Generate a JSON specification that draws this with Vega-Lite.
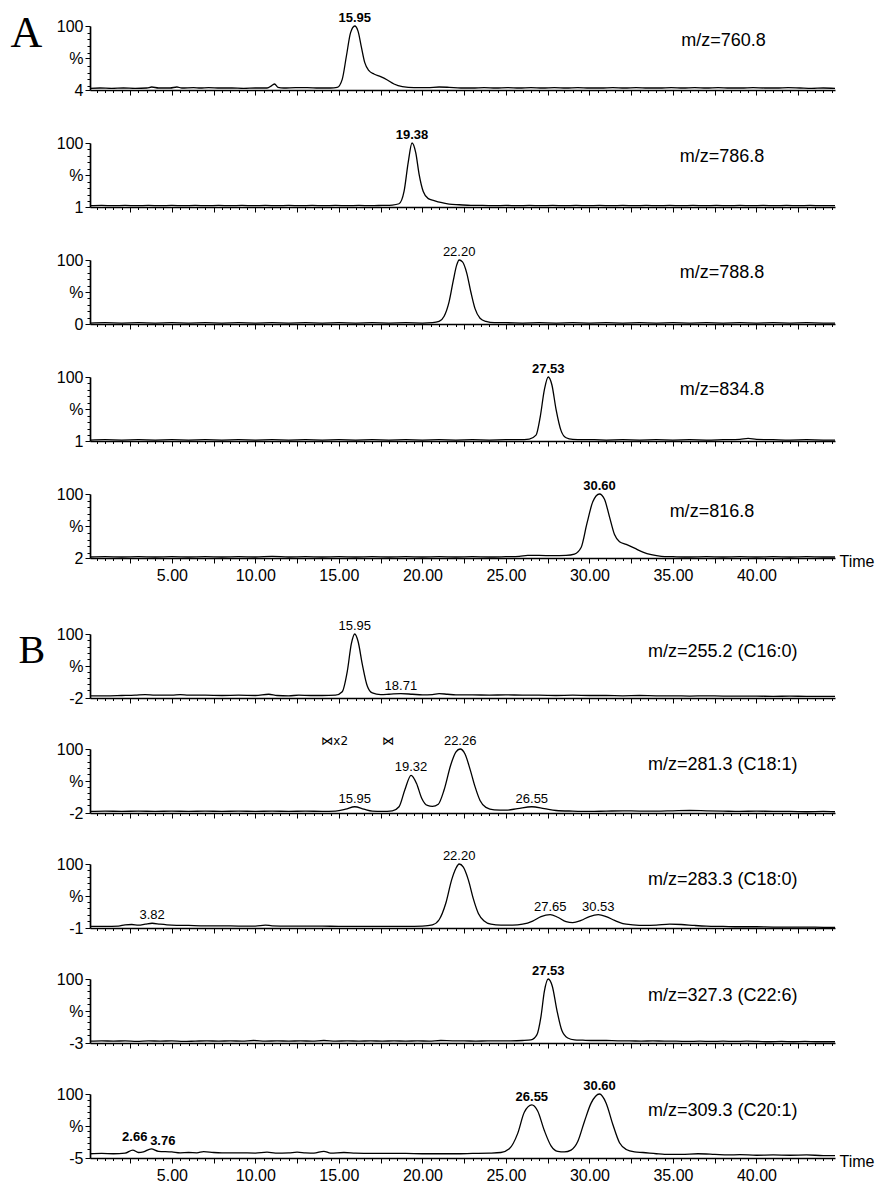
{
"$schema": "https://vega.github.io/schema/vega-lite/v6.json",
"background": "white",
"padding": {"left": 10, "top": 11, "right": 4, "bottom": 0},
"config": {"view": {"stroke": null}, "font": "Liberation Sans", "axis": {"domainColor": "black", "tickColor": "black", "labelColor": "black", "titleColor": "black", "grid": false, "domainWidth": 1.7, "tickWidth": 1, "labelFontSize": 16, "labelFont": "Liberation Sans"}, "text": {"color": "black"}},
"datasets": {
"tr": [
{"p":"A1","t":0.1,"v":6.5},{"p":"A1","t":0.7,"v":7},{"p":"A1","t":1.4,"v":6.5},{"p":"A1","t":2.1,"v":7},{"p":"A1","t":2.8,"v":6.5},{"p":"A1","t":3.5,"v":7},{"p":"A1","t":3.8,"v":8.5},{"p":"A1","t":4.2,"v":7},{"p":"A1","t":4.9,"v":7},{"p":"A1","t":5.3,"v":8.5},{"p":"A1","t":5.6,"v":7},{"p":"A1","t":6.3,"v":7.5},{"p":"A1","t":6.7,"v":7},{"p":"A1","t":7.2,"v":7.5},{"p":"A1","t":7.9,"v":7},{"p":"A1","t":8.6,"v":7},{"p":"A1","t":9.3,"v":6.5},{"p":"A1","t":10.0,"v":7},{"p":"A1","t":10.7,"v":7},{"p":"A1","t":11.0,"v":11},{"p":"A1","t":11.15,"v":13},{"p":"A1","t":11.35,"v":8},{"p":"A1","t":11.7,"v":7},{"p":"A1","t":12.4,"v":7.5},{"p":"A1","t":13.1,"v":7.5},{"p":"A1","t":13.8,"v":7},{"p":"A1","t":14.5,"v":7},{"p":"A1","t":14.9,"v":8},{"p":"A1","t":15.2,"v":20},{"p":"A1","t":15.45,"v":55},{"p":"A1","t":15.7,"v":90},{"p":"A1","t":15.95,"v":100},{"p":"A1","t":16.15,"v":92},{"p":"A1","t":16.35,"v":68},{"p":"A1","t":16.55,"v":45},{"p":"A1","t":16.8,"v":33},{"p":"A1","t":17.1,"v":28},{"p":"A1","t":17.5,"v":24},{"p":"A1","t":17.9,"v":19},{"p":"A1","t":18.3,"v":13},{"p":"A1","t":18.8,"v":9},{"p":"A1","t":19.5,"v":7.5},{"p":"A1","t":20.3,"v":7.5},{"p":"A1","t":21.0,"v":8.5},{"p":"A1","t":21.6,"v":8},{"p":"A1","t":22.3,"v":7},{"p":"A1","t":23.0,"v":7},{"p":"A1","t":23.7,"v":7.5},{"p":"A1","t":24.4,"v":7},{"p":"A1","t":25.1,"v":7.5},{"p":"A1","t":25.8,"v":7},{"p":"A1","t":26.5,"v":7.5},{"p":"A1","t":27.2,"v":7},{"p":"A1","t":27.9,"v":7.5},{"p":"A1","t":28.6,"v":7},{"p":"A1","t":29.3,"v":7.5},{"p":"A1","t":30.0,"v":7},{"p":"A1","t":30.7,"v":7},{"p":"A1","t":31.4,"v":7.5},{"p":"A1","t":32.1,"v":7},{"p":"A1","t":32.8,"v":7.5},{"p":"A1","t":33.5,"v":7},{"p":"A1","t":34.2,"v":7},{"p":"A1","t":34.9,"v":7.5},{"p":"A1","t":35.6,"v":7},{"p":"A1","t":36.3,"v":7.5},{"p":"A1","t":37.0,"v":7},{"p":"A1","t":37.7,"v":7.5},{"p":"A1","t":38.4,"v":7},{"p":"A1","t":39.1,"v":7},{"p":"A1","t":39.8,"v":7.5},{"p":"A1","t":40.5,"v":7},{"p":"A1","t":41.2,"v":7},{"p":"A1","t":41.9,"v":7.5},{"p":"A1","t":42.6,"v":7},{"p":"A1","t":43.3,"v":6.5},{"p":"A1","t":44.0,"v":7},{"p":"A1","t":44.7,"v":6.5},
{"p":"A2","t":0.1,"v":3},{"p":"A2","t":0.8,"v":3.5},{"p":"A2","t":1.5,"v":3},{"p":"A2","t":2.2,"v":3.5},{"p":"A2","t":2.9,"v":3},{"p":"A2","t":3.6,"v":3.5},{"p":"A2","t":4.3,"v":3},{"p":"A2","t":5.0,"v":3.5},{"p":"A2","t":5.7,"v":3},{"p":"A2","t":6.4,"v":3.5},{"p":"A2","t":7.1,"v":3},{"p":"A2","t":7.8,"v":3.5},{"p":"A2","t":8.5,"v":3},{"p":"A2","t":9.2,"v":3.5},{"p":"A2","t":9.9,"v":3},{"p":"A2","t":10.6,"v":3.5},{"p":"A2","t":11.3,"v":3},{"p":"A2","t":12.0,"v":3.5},{"p":"A2","t":12.7,"v":3},{"p":"A2","t":13.4,"v":3.5},{"p":"A2","t":14.1,"v":3},{"p":"A2","t":14.8,"v":3.5},{"p":"A2","t":15.5,"v":3},{"p":"A2","t":16.2,"v":3.5},{"p":"A2","t":16.9,"v":3},{"p":"A2","t":17.6,"v":3.5},{"p":"A2","t":18.2,"v":4},{"p":"A2","t":18.6,"v":6},{"p":"A2","t":18.9,"v":25},{"p":"A2","t":19.15,"v":70},{"p":"A2","t":19.38,"v":100},{"p":"A2","t":19.6,"v":85},{"p":"A2","t":19.8,"v":52},{"p":"A2","t":20.05,"v":25},{"p":"A2","t":20.35,"v":14},{"p":"A2","t":20.7,"v":11},{"p":"A2","t":21.1,"v":8},{"p":"A2","t":21.6,"v":5.5},{"p":"A2","t":22.2,"v":4.5},{"p":"A2","t":22.9,"v":3.5},{"p":"A2","t":23.6,"v":3.5},{"p":"A2","t":24.3,"v":3},{"p":"A2","t":25.0,"v":3.5},{"p":"A2","t":25.7,"v":3},{"p":"A2","t":26.4,"v":3.5},{"p":"A2","t":27.1,"v":3},{"p":"A2","t":27.8,"v":3.5},{"p":"A2","t":28.5,"v":3},{"p":"A2","t":29.2,"v":3.5},{"p":"A2","t":29.9,"v":3},{"p":"A2","t":30.6,"v":3.5},{"p":"A2","t":31.3,"v":3},{"p":"A2","t":32.0,"v":3.5},{"p":"A2","t":32.7,"v":3},{"p":"A2","t":33.4,"v":3.5},{"p":"A2","t":34.1,"v":3},{"p":"A2","t":34.8,"v":3.5},{"p":"A2","t":35.5,"v":3},{"p":"A2","t":36.2,"v":3.5},{"p":"A2","t":36.9,"v":3},{"p":"A2","t":37.6,"v":3.5},{"p":"A2","t":38.3,"v":3},{"p":"A2","t":39.0,"v":3.5},{"p":"A2","t":39.7,"v":3},{"p":"A2","t":40.4,"v":3.5},{"p":"A2","t":41.1,"v":3},{"p":"A2","t":41.8,"v":3.5},{"p":"A2","t":42.5,"v":3},{"p":"A2","t":43.2,"v":3.5},{"p":"A2","t":43.9,"v":3},{"p":"A2","t":44.7,"v":3},
{"p":"A3","t":0.1,"v":1.5},{"p":"A3","t":1.0,"v":2},{"p":"A3","t":2.0,"v":1.5},{"p":"A3","t":3.0,"v":2},{"p":"A3","t":4.0,"v":1.5},{"p":"A3","t":5.0,"v":2},{"p":"A3","t":6.0,"v":1.5},{"p":"A3","t":7.0,"v":2},{"p":"A3","t":8.0,"v":1.5},{"p":"A3","t":9.0,"v":2},{"p":"A3","t":10.0,"v":1.5},{"p":"A3","t":11.0,"v":2},{"p":"A3","t":12.0,"v":1.5},{"p":"A3","t":13.0,"v":2},{"p":"A3","t":14.0,"v":1.5},{"p":"A3","t":15.0,"v":2},{"p":"A3","t":16.0,"v":1.5},{"p":"A3","t":17.0,"v":2},{"p":"A3","t":18.0,"v":1.5},{"p":"A3","t":19.0,"v":2},{"p":"A3","t":20.0,"v":1.5},{"p":"A3","t":20.6,"v":2},{"p":"A3","t":21.0,"v":4},{"p":"A3","t":21.3,"v":12},{"p":"A3","t":21.6,"v":35},{"p":"A3","t":21.85,"v":68},{"p":"A3","t":22.05,"v":92},{"p":"A3","t":22.2,"v":100},{"p":"A3","t":22.4,"v":97},{"p":"A3","t":22.65,"v":80},{"p":"A3","t":22.9,"v":50},{"p":"A3","t":23.15,"v":24},{"p":"A3","t":23.45,"v":9},{"p":"A3","t":23.8,"v":4},{"p":"A3","t":24.3,"v":2},{"p":"A3","t":25.0,"v":2},{"p":"A3","t":26.0,"v":1.5},{"p":"A3","t":27.0,"v":2},{"p":"A3","t":28.0,"v":1.5},{"p":"A3","t":29.0,"v":2},{"p":"A3","t":30.0,"v":1.5},{"p":"A3","t":31.0,"v":2},{"p":"A3","t":32.0,"v":1.5},{"p":"A3","t":33.0,"v":2},{"p":"A3","t":34.0,"v":1.5},{"p":"A3","t":35.0,"v":2},{"p":"A3","t":36.0,"v":1.5},{"p":"A3","t":37.0,"v":2},{"p":"A3","t":38.0,"v":1.5},{"p":"A3","t":39.0,"v":2},{"p":"A3","t":40.0,"v":1.5},{"p":"A3","t":41.0,"v":2},{"p":"A3","t":42.0,"v":1.5},{"p":"A3","t":43.0,"v":2},{"p":"A3","t":44.0,"v":1.5},{"p":"A3","t":44.7,"v":1.5},
{"p":"A4","t":0.1,"v":2.5},{"p":"A4","t":1.0,"v":3},{"p":"A4","t":2.0,"v":2.5},{"p":"A4","t":3.0,"v":3},{"p":"A4","t":4.0,"v":2.5},{"p":"A4","t":5.0,"v":3},{"p":"A4","t":6.0,"v":2.5},{"p":"A4","t":7.0,"v":3},{"p":"A4","t":8.0,"v":2.5},{"p":"A4","t":9.0,"v":3},{"p":"A4","t":10.0,"v":2.5},{"p":"A4","t":11.0,"v":3},{"p":"A4","t":12.0,"v":2.5},{"p":"A4","t":13.0,"v":3},{"p":"A4","t":14.0,"v":2.5},{"p":"A4","t":15.0,"v":3},{"p":"A4","t":16.0,"v":2.5},{"p":"A4","t":17.0,"v":3},{"p":"A4","t":18.0,"v":2.5},{"p":"A4","t":19.0,"v":3},{"p":"A4","t":20.0,"v":2.5},{"p":"A4","t":21.0,"v":3},{"p":"A4","t":22.0,"v":2.5},{"p":"A4","t":23.0,"v":3},{"p":"A4","t":24.0,"v":2.5},{"p":"A4","t":25.0,"v":3},{"p":"A4","t":25.8,"v":3},{"p":"A4","t":26.4,"v":4},{"p":"A4","t":26.8,"v":10},{"p":"A4","t":27.05,"v":38},{"p":"A4","t":27.3,"v":80},{"p":"A4","t":27.53,"v":100},{"p":"A4","t":27.75,"v":88},{"p":"A4","t":28.0,"v":50},{"p":"A4","t":28.3,"v":17},{"p":"A4","t":28.6,"v":6},{"p":"A4","t":29.0,"v":3.5},{"p":"A4","t":29.6,"v":3},{"p":"A4","t":30.3,"v":3},{"p":"A4","t":31.0,"v":2.5},{"p":"A4","t":32.0,"v":3},{"p":"A4","t":33.0,"v":2.5},{"p":"A4","t":34.0,"v":3},{"p":"A4","t":35.0,"v":2.5},{"p":"A4","t":36.0,"v":3},{"p":"A4","t":37.0,"v":2.5},{"p":"A4","t":38.0,"v":3},{"p":"A4","t":39.0,"v":3.5},{"p":"A4","t":39.5,"v":5},{"p":"A4","t":40.0,"v":3.5},{"p":"A4","t":41.0,"v":3},{"p":"A4","t":42.0,"v":2.5},{"p":"A4","t":43.0,"v":3},{"p":"A4","t":44.0,"v":2.5},{"p":"A4","t":44.7,"v":2.5},
{"p":"A5","t":0.1,"v":3.5},{"p":"A5","t":1.0,"v":4},{"p":"A5","t":2.0,"v":3.5},{"p":"A5","t":3.0,"v":4},{"p":"A5","t":4.0,"v":3.5},{"p":"A5","t":5.0,"v":4},{"p":"A5","t":6.0,"v":3.5},{"p":"A5","t":7.0,"v":4},{"p":"A5","t":8.0,"v":3.5},{"p":"A5","t":9.0,"v":4},{"p":"A5","t":10.0,"v":3.5},{"p":"A5","t":11.0,"v":4.5},{"p":"A5","t":12.0,"v":3.5},{"p":"A5","t":13.0,"v":4},{"p":"A5","t":14.0,"v":3.5},{"p":"A5","t":15.0,"v":4},{"p":"A5","t":16.0,"v":3.5},{"p":"A5","t":17.0,"v":4},{"p":"A5","t":18.0,"v":3.5},{"p":"A5","t":19.0,"v":4},{"p":"A5","t":20.0,"v":3.5},{"p":"A5","t":21.0,"v":4},{"p":"A5","t":22.0,"v":3.5},{"p":"A5","t":23.0,"v":4},{"p":"A5","t":24.0,"v":3.5},{"p":"A5","t":25.0,"v":4},{"p":"A5","t":25.8,"v":4.5},{"p":"A5","t":26.3,"v":6},{"p":"A5","t":27.0,"v":6},{"p":"A5","t":27.8,"v":5.5},{"p":"A5","t":28.6,"v":6},{"p":"A5","t":29.1,"v":8},{"p":"A5","t":29.5,"v":18},{"p":"A5","t":29.85,"v":55},{"p":"A5","t":30.2,"v":88},{"p":"A5","t":30.6,"v":100},{"p":"A5","t":30.9,"v":92},{"p":"A5","t":31.2,"v":65},{"p":"A5","t":31.5,"v":38},{"p":"A5","t":31.8,"v":27},{"p":"A5","t":32.2,"v":23},{"p":"A5","t":32.7,"v":17},{"p":"A5","t":33.2,"v":11},{"p":"A5","t":33.7,"v":7},{"p":"A5","t":34.3,"v":4.5},{"p":"A5","t":35.0,"v":4},{"p":"A5","t":36.0,"v":3.5},{"p":"A5","t":37.0,"v":4},{"p":"A5","t":38.0,"v":3.5},{"p":"A5","t":39.0,"v":4},{"p":"A5","t":40.0,"v":3.5},{"p":"A5","t":41.0,"v":4},{"p":"A5","t":42.0,"v":3.5},{"p":"A5","t":43.0,"v":4},{"p":"A5","t":44.0,"v":3.5},{"p":"A5","t":44.7,"v":3.5},
{"p":"B1","t":0.1,"v":1.5},{"p":"B1","t":1.0,"v":1.5},{"p":"B1","t":2.0,"v":2},{"p":"B1","t":2.8,"v":2.5},{"p":"B1","t":3.4,"v":3.5},{"p":"B1","t":4.0,"v":2.5},{"p":"B1","t":5.0,"v":2.5},{"p":"B1","t":5.5,"v":3.5},{"p":"B1","t":6.0,"v":2.5},{"p":"B1","t":7.0,"v":2.5},{"p":"B1","t":8.0,"v":2},{"p":"B1","t":9.0,"v":2.5},{"p":"B1","t":10.0,"v":2},{"p":"B1","t":10.8,"v":4},{"p":"B1","t":11.3,"v":2},{"p":"B1","t":12.0,"v":1.5},{"p":"B1","t":12.6,"v":2.5},{"p":"B1","t":13.3,"v":2},{"p":"B1","t":14.0,"v":2},{"p":"B1","t":14.8,"v":2.5},{"p":"B1","t":15.2,"v":8},{"p":"B1","t":15.5,"v":40},{"p":"B1","t":15.75,"v":85},{"p":"B1","t":15.95,"v":100},{"p":"B1","t":16.15,"v":88},{"p":"B1","t":16.4,"v":52},{"p":"B1","t":16.7,"v":17},{"p":"B1","t":17.0,"v":6},{"p":"B1","t":17.5,"v":3.5},{"p":"B1","t":18.0,"v":4},{"p":"B1","t":18.71,"v":5},{"p":"B1","t":19.4,"v":4},{"p":"B1","t":20.0,"v":3},{"p":"B1","t":20.6,"v":3.5},{"p":"B1","t":21.0,"v":5},{"p":"B1","t":21.5,"v":4},{"p":"B1","t":22.0,"v":3},{"p":"B1","t":23.0,"v":3},{"p":"B1","t":24.0,"v":2.5},{"p":"B1","t":25.0,"v":3},{"p":"B1","t":26.0,"v":2.5},{"p":"B1","t":27.0,"v":2.5},{"p":"B1","t":28.0,"v":2},{"p":"B1","t":29.0,"v":2.5},{"p":"B1","t":30.0,"v":2},{"p":"B1","t":31.0,"v":2},{"p":"B1","t":32.0,"v":1.5},{"p":"B1","t":33.0,"v":2},{"p":"B1","t":34.0,"v":1.5},{"p":"B1","t":35.0,"v":1.5},{"p":"B1","t":36.0,"v":1},{"p":"B1","t":37.0,"v":1.5},{"p":"B1","t":38.0,"v":1},{"p":"B1","t":39.0,"v":1},{"p":"B1","t":40.0,"v":1},{"p":"B1","t":41.0,"v":0.5},{"p":"B1","t":42.0,"v":1},{"p":"B1","t":43.0,"v":0.5},{"p":"B1","t":44.0,"v":0.5},{"p":"B1","t":44.7,"v":0.5},
{"p":"B2","t":0.1,"v":0.5},{"p":"B2","t":1.0,"v":1},{"p":"B2","t":2.0,"v":0.5},{"p":"B2","t":3.0,"v":1},{"p":"B2","t":4.0,"v":0.5},{"p":"B2","t":5.0,"v":1},{"p":"B2","t":6.0,"v":0.5},{"p":"B2","t":7.0,"v":1},{"p":"B2","t":8.0,"v":0.5},{"p":"B2","t":9.0,"v":1},{"p":"B2","t":10.0,"v":0.5},{"p":"B2","t":11.0,"v":1},{"p":"B2","t":12.0,"v":0.5},{"p":"B2","t":13.0,"v":1},{"p":"B2","t":14.0,"v":0.5},{"p":"B2","t":14.8,"v":1},{"p":"B2","t":15.4,"v":4},{"p":"B2","t":15.95,"v":8},{"p":"B2","t":16.5,"v":4},{"p":"B2","t":17.0,"v":1},{"p":"B2","t":17.6,"v":0.5},{"p":"B2","t":18.2,"v":1.5},{"p":"B2","t":18.6,"v":8},{"p":"B2","t":18.95,"v":35},{"p":"B2","t":19.32,"v":58},{"p":"B2","t":19.65,"v":45},{"p":"B2","t":19.95,"v":22},{"p":"B2","t":20.3,"v":10},{"p":"B2","t":20.6,"v":8.5},{"p":"B2","t":20.95,"v":12},{"p":"B2","t":21.3,"v":35},{"p":"B2","t":21.7,"v":75},{"p":"B2","t":22.0,"v":95},{"p":"B2","t":22.26,"v":100},{"p":"B2","t":22.55,"v":92},{"p":"B2","t":22.85,"v":68},{"p":"B2","t":23.15,"v":40},{"p":"B2","t":23.45,"v":18},{"p":"B2","t":23.8,"v":7},{"p":"B2","t":24.3,"v":3},{"p":"B2","t":25.0,"v":2.5},{"p":"B2","t":25.7,"v":5},{"p":"B2","t":26.55,"v":8},{"p":"B2","t":27.3,"v":5},{"p":"B2","t":28.0,"v":2},{"p":"B2","t":29.0,"v":1},{"p":"B2","t":30.0,"v":0.5},{"p":"B2","t":31.0,"v":1},{"p":"B2","t":32.0,"v":1.5},{"p":"B2","t":33.0,"v":1},{"p":"B2","t":34.0,"v":1},{"p":"B2","t":35.0,"v":1.5},{"p":"B2","t":36.0,"v":2},{"p":"B2","t":37.0,"v":1.5},{"p":"B2","t":38.0,"v":1},{"p":"B2","t":39.0,"v":0.5},{"p":"B2","t":40.0,"v":1},{"p":"B2","t":41.0,"v":0.5},{"p":"B2","t":42.0,"v":0.5},{"p":"B2","t":43.0,"v":0},{"p":"B2","t":44.0,"v":0.5},{"p":"B2","t":44.7,"v":0},
{"p":"B3","t":0.1,"v":1.5},{"p":"B3","t":1.0,"v":1.5},{"p":"B3","t":1.8,"v":2},{"p":"B3","t":2.2,"v":4},{"p":"B3","t":2.6,"v":4.5},{"p":"B3","t":3.0,"v":3.5},{"p":"B3","t":3.4,"v":5},{"p":"B3","t":3.82,"v":6.5},{"p":"B3","t":4.3,"v":5},{"p":"B3","t":5.0,"v":3.5},{"p":"B3","t":6.0,"v":3},{"p":"B3","t":7.0,"v":2.5},{"p":"B3","t":8.0,"v":2.5},{"p":"B3","t":9.0,"v":2},{"p":"B3","t":10.0,"v":2},{"p":"B3","t":10.6,"v":3.5},{"p":"B3","t":11.0,"v":2.5},{"p":"B3","t":12.0,"v":2},{"p":"B3","t":13.0,"v":2},{"p":"B3","t":14.0,"v":2},{"p":"B3","t":15.0,"v":1.5},{"p":"B3","t":16.0,"v":1.5},{"p":"B3","t":17.0,"v":1.5},{"p":"B3","t":18.0,"v":1.5},{"p":"B3","t":19.0,"v":1.5},{"p":"B3","t":20.0,"v":2},{"p":"B3","t":20.6,"v":4},{"p":"B3","t":21.0,"v":12},{"p":"B3","t":21.4,"v":38},{"p":"B3","t":21.75,"v":75},{"p":"B3","t":22.0,"v":93},{"p":"B3","t":22.2,"v":100},{"p":"B3","t":22.45,"v":95},{"p":"B3","t":22.75,"v":75},{"p":"B3","t":23.05,"v":45},{"p":"B3","t":23.35,"v":22},{"p":"B3","t":23.7,"v":10},{"p":"B3","t":24.1,"v":5},{"p":"B3","t":24.7,"v":3.5},{"p":"B3","t":25.4,"v":3.5},{"p":"B3","t":26.0,"v":5},{"p":"B3","t":26.6,"v":10},{"p":"B3","t":27.1,"v":17},{"p":"B3","t":27.65,"v":20},{"p":"B3","t":28.1,"v":16},{"p":"B3","t":28.6,"v":9},{"p":"B3","t":29.0,"v":7.5},{"p":"B3","t":29.5,"v":11},{"p":"B3","t":30.0,"v":17},{"p":"B3","t":30.53,"v":20},{"p":"B3","t":31.0,"v":17},{"p":"B3","t":31.5,"v":11},{"p":"B3","t":32.0,"v":6},{"p":"B3","t":32.6,"v":4},{"p":"B3","t":33.3,"v":3},{"p":"B3","t":34.0,"v":3.5},{"p":"B3","t":34.8,"v":5},{"p":"B3","t":35.5,"v":4.5},{"p":"B3","t":36.3,"v":3},{"p":"B3","t":37.0,"v":2},{"p":"B3","t":38.0,"v":1.5},{"p":"B3","t":39.0,"v":1},{"p":"B3","t":40.0,"v":1},{"p":"B3","t":41.0,"v":0.5},{"p":"B3","t":42.0,"v":0.5},{"p":"B3","t":43.0,"v":0.5},{"p":"B3","t":44.0,"v":0},{"p":"B3","t":44.7,"v":0},
{"p":"B4","t":0.1,"v":0},{"p":"B4","t":0.8,"v":0.5},{"p":"B4","t":1.5,"v":0},{"p":"B4","t":2.2,"v":0.5},{"p":"B4","t":2.9,"v":-0.5},{"p":"B4","t":3.6,"v":0.5},{"p":"B4","t":4.3,"v":0},{"p":"B4","t":5.0,"v":0.5},{"p":"B4","t":5.7,"v":-0.5},{"p":"B4","t":6.4,"v":0},{"p":"B4","t":7.1,"v":0.5},{"p":"B4","t":7.8,"v":0},{"p":"B4","t":8.5,"v":0.5},{"p":"B4","t":9.2,"v":0},{"p":"B4","t":9.9,"v":1},{"p":"B4","t":10.6,"v":0},{"p":"B4","t":11.3,"v":0.5},{"p":"B4","t":12.0,"v":0},{"p":"B4","t":12.7,"v":0.5},{"p":"B4","t":13.4,"v":0},{"p":"B4","t":14.1,"v":1},{"p":"B4","t":14.8,"v":0},{"p":"B4","t":15.5,"v":0.5},{"p":"B4","t":16.2,"v":0},{"p":"B4","t":16.9,"v":0.5},{"p":"B4","t":17.6,"v":0},{"p":"B4","t":18.3,"v":0.5},{"p":"B4","t":19.0,"v":0},{"p":"B4","t":19.7,"v":0.5},{"p":"B4","t":20.4,"v":0},{"p":"B4","t":21.1,"v":1},{"p":"B4","t":21.8,"v":0.5},{"p":"B4","t":22.5,"v":0.5},{"p":"B4","t":23.2,"v":0},{"p":"B4","t":23.9,"v":0.5},{"p":"B4","t":24.6,"v":0.5},{"p":"B4","t":25.3,"v":0.5},{"p":"B4","t":26.0,"v":1},{"p":"B4","t":26.5,"v":2},{"p":"B4","t":26.85,"v":10},{"p":"B4","t":27.1,"v":40},{"p":"B4","t":27.3,"v":80},{"p":"B4","t":27.53,"v":100},{"p":"B4","t":27.78,"v":88},{"p":"B4","t":28.05,"v":50},{"p":"B4","t":28.35,"v":17},{"p":"B4","t":28.7,"v":5},{"p":"B4","t":29.1,"v":2},{"p":"B4","t":29.6,"v":1.5},{"p":"B4","t":30.3,"v":1},{"p":"B4","t":31.0,"v":1},{"p":"B4","t":31.7,"v":0.5},{"p":"B4","t":32.4,"v":0.5},{"p":"B4","t":33.1,"v":0},{"p":"B4","t":33.8,"v":0.5},{"p":"B4","t":34.5,"v":0},{"p":"B4","t":35.2,"v":0},{"p":"B4","t":35.9,"v":-0.5},{"p":"B4","t":36.6,"v":0},{"p":"B4","t":37.3,"v":-0.5},{"p":"B4","t":38.0,"v":0},{"p":"B4","t":38.7,"v":-0.5},{"p":"B4","t":39.4,"v":0},{"p":"B4","t":40.1,"v":-0.5},{"p":"B4","t":40.8,"v":-1},{"p":"B4","t":41.5,"v":-0.5},{"p":"B4","t":42.2,"v":-1},{"p":"B4","t":42.9,"v":-0.5},{"p":"B4","t":43.6,"v":-1},{"p":"B4","t":44.3,"v":-1},{"p":"B4","t":44.7,"v":-1},
{"p":"B5","t":0.1,"v":2},{"p":"B5","t":0.8,"v":2.5},{"p":"B5","t":1.5,"v":2},{"p":"B5","t":2.2,"v":3},{"p":"B5","t":2.66,"v":8},{"p":"B5","t":3.0,"v":4},{"p":"B5","t":3.3,"v":5},{"p":"B5","t":3.76,"v":10},{"p":"B5","t":4.2,"v":6},{"p":"B5","t":5.0,"v":5},{"p":"B5","t":5.5,"v":3.5},{"p":"B5","t":6.0,"v":4},{"p":"B5","t":6.5,"v":3.5},{"p":"B5","t":6.9,"v":5.5},{"p":"B5","t":7.5,"v":4},{"p":"B5","t":8.0,"v":3.5},{"p":"B5","t":9.0,"v":3.5},{"p":"B5","t":10.0,"v":3},{"p":"B5","t":10.7,"v":4.5},{"p":"B5","t":11.2,"v":3},{"p":"B5","t":12.0,"v":3.5},{"p":"B5","t":12.5,"v":4.5},{"p":"B5","t":13.0,"v":3.5},{"p":"B5","t":13.5,"v":3},{"p":"B5","t":14.1,"v":6},{"p":"B5","t":14.5,"v":3},{"p":"B5","t":15.3,"v":4},{"p":"B5","t":16.0,"v":3},{"p":"B5","t":17.0,"v":2.5},{"p":"B5","t":18.0,"v":2.5},{"p":"B5","t":19.0,"v":2.5},{"p":"B5","t":20.0,"v":2},{"p":"B5","t":21.0,"v":2},{"p":"B5","t":22.0,"v":2},{"p":"B5","t":23.0,"v":2.5},{"p":"B5","t":24.0,"v":3},{"p":"B5","t":24.7,"v":4},{"p":"B5","t":25.2,"v":10},{"p":"B5","t":25.7,"v":35},{"p":"B5","t":26.1,"v":70},{"p":"B5","t":26.55,"v":82},{"p":"B5","t":26.9,"v":72},{"p":"B5","t":27.3,"v":40},{"p":"B5","t":27.7,"v":15},{"p":"B5","t":28.1,"v":6},{"p":"B5","t":28.5,"v":5},{"p":"B5","t":28.9,"v":8},{"p":"B5","t":29.3,"v":22},{"p":"B5","t":29.7,"v":55},{"p":"B5","t":30.1,"v":85},{"p":"B5","t":30.6,"v":100},{"p":"B5","t":31.0,"v":85},{"p":"B5","t":31.4,"v":50},{"p":"B5","t":31.8,"v":20},{"p":"B5","t":32.2,"v":9},{"p":"B5","t":32.7,"v":5},{"p":"B5","t":33.2,"v":4},{"p":"B5","t":34.0,"v":2},{"p":"B5","t":34.5,"v":1},{"p":"B5","t":35.5,"v":1},{"p":"B5","t":36.5,"v":2},{"p":"B5","t":37.5,"v":1},{"p":"B5","t":38.3,"v":0},{"p":"B5","t":39.0,"v":0.5},{"p":"B5","t":40.0,"v":-0.5},{"p":"B5","t":41.0,"v":0},{"p":"B5","t":42.0,"v":-0.5},{"p":"B5","t":43.0,"v":0},{"p":"B5","t":44.0,"v":-1},{"p":"B5","t":44.7,"v":-1}
],
"pk": [
{"p":"A1","t":15.95,"v":100,"s":"15.95"},
{"p":"A2","t":19.38,"v":100,"s":"19.38"},
{"p":"A3","t":22.2,"v":100,"s":"22.20"},
{"p":"A4","t":27.53,"v":100,"s":"27.53"},
{"p":"A5","t":30.6,"v":100,"s":"30.60"},
{"p":"B1","t":15.95,"v":100,"s":"15.95"},{"p":"B1","t":18.71,"v":5,"s":"18.71"},
{"p":"B2","t":15.95,"v":8,"s":"15.95"},{"p":"B2","t":19.32,"v":58,"s":"19.32"},{"p":"B2","t":22.26,"v":100,"s":"22.26"},{"p":"B2","t":26.55,"v":8,"s":"26.55"},
{"p":"B3","t":3.82,"v":6.5,"s":"3.82"},{"p":"B3","t":22.2,"v":100,"s":"22.20"},{"p":"B3","t":27.65,"v":20,"s":"27.65"},{"p":"B3","t":30.53,"v":20,"s":"30.53"},
{"p":"B4","t":27.53,"v":100,"s":"27.53"},
{"p":"B5","t":2.66,"v":8,"s":"2.66"},{"p":"B5","t":3.76,"v":10,"s":"3.76"},{"p":"B5","t":26.55,"v":82,"s":"26.55"},{"p":"B5","t":30.6,"v":100,"s":"30.60"}
],
"mk": [
{"p":"B2","t":14.75,"v":100,"s":"⋈x2"},{"p":"B2","t":17.95,"v":100,"s":"⋈"}
],
"lab": [
{"p":"A1","t":35.5,"v":78,"s":"m/z=760.8"},
{"p":"A2","t":35.4,"v":78,"s":"m/z=786.8"},
{"p":"A3","t":35.4,"v":80,"s":"m/z=788.8"},
{"p":"A4","t":35.4,"v":80,"s":"m/z=834.8"},
{"p":"A5","t":34.8,"v":72,"s":"m/z=816.8"},
{"p":"B1","t":33.5,"v":72,"s":"m/z=255.2 (C16:0)"},
{"p":"B2","t":33.5,"v":74,"s":"m/z=281.3 (C18:1)"},
{"p":"B3","t":33.5,"v":75,"s":"m/z=283.3 (C18:0)"},
{"p":"B4","t":33.5,"v":73,"s":"m/z=327.3 (C22:6)"},
{"p":"B5","t":33.5,"v":72,"s":"m/z=309.3 (C20:1)"}
]
},
"resolve": {"scale": {"x": "independent", "y": "independent"}},
"spacing": 37,
"vconcat": [
{"spacing": 31, "resolve": {"scale": {"x": "independent", "y": "independent"}}, "vconcat": [
{"width": 745, "height": 64,
 "encoding": {
  "x": {"field": "t", "type": "quantitative", "scale": {"domain": [0.1, 44.7], "nice": false, "zero": false}, "axis": {"values": [0.5,1,1.5,2,2.5,3,3.5,4,4.5,5,5.5,6,6.5,7,7.5,8,8.5,9,9.5,10,10.5,11,11.5,12,12.5,13,13.5,14,14.5,15,15.5,16,16.5,17,17.5,18,18.5,19,19.5,20,20.5,21,21.5,22,22.5,23,23.5,24,24.5,25,25.5,26,26.5,27,27.5,28,28.5,29,29.5,30,30.5,31,31.5,32,32.5,33,33.5,34,34.5,35,35.5,36,36.5,37,37.5,38,38.5,39,39.5,40,40.5,41,41.5,42,42.5,43,43.5,44,44.5], "labels": false, "title": null, "tickSize": {"condition": {"test": "datum.value % 2.5 == 0", "value": 5}, "value": 2.5}}},
  "y": {"field": "v", "type": "quantitative", "scale": {"domain": [4, 100], "nice": false, "zero": false}, "axis": {"values": [4,10,20,30,40,52,60,70,80,90,100], "labelExpr": "datum.value == 100 ? '100' : datum.value == 52 ? '%' : datum.value == 4 ? '4' : ''", "labelOverlap": false, "labelPadding": 2, "tickSize": {"condition": {"test": "datum.value == 100 || datum.value == 52 || datum.value == 4", "value": 5}, "value": 3}, "title": "A", "titleAngle": 0, "titleAlign": "left", "titleBaseline": "alphabetic", "titleX": -80, "titleY": 20, "titleFont": "Liberation Serif", "titleFontSize": 44, "titleFontWeight": "normal"}}
 },
 "layer": [
  {"data": {"name": "tr"}, "transform": [{"filter": "datum.p == 'A1'"}], "mark": {"type": "line", "color": "black", "strokeWidth": 1.3, "interpolate": "monotone"}},
  {"data": {"name": "pk"}, "transform": [{"filter": "datum.p == 'A1'"}], "mark": {"type": "text", "dy": -4, "fontSize": 13, "fontWeight": "bold", "baseline": "alphabetic"}, "encoding": {"text": {"field": "s"}}},
  {"data": {"name": "lab"}, "transform": [{"filter": "datum.p == 'A1'"}], "mark": {"type": "text", "align": "left", "baseline": "middle", "fontSize": 18}, "encoding": {"text": {"field": "s"}}}
 ]},
{"width": 745, "height": 64,
 "encoding": {
  "x": {"field": "t", "type": "quantitative", "scale": {"domain": [0.1, 44.7], "nice": false, "zero": false}, "axis": {"values": [0.5,1,1.5,2,2.5,3,3.5,4,4.5,5,5.5,6,6.5,7,7.5,8,8.5,9,9.5,10,10.5,11,11.5,12,12.5,13,13.5,14,14.5,15,15.5,16,16.5,17,17.5,18,18.5,19,19.5,20,20.5,21,21.5,22,22.5,23,23.5,24,24.5,25,25.5,26,26.5,27,27.5,28,28.5,29,29.5,30,30.5,31,31.5,32,32.5,33,33.5,34,34.5,35,35.5,36,36.5,37,37.5,38,38.5,39,39.5,40,40.5,41,41.5,42,42.5,43,43.5,44,44.5], "labels": false, "title": null, "tickSize": {"condition": {"test": "datum.value % 2.5 == 0", "value": 5}, "value": 2.5}}},
  "y": {"field": "v", "type": "quantitative", "scale": {"domain": [1, 100], "nice": false, "zero": false}, "axis": {"values": [1,10,20,30,40,50.5,60,70,80,90,100], "labelExpr": "datum.value == 100 ? '100' : datum.value == 50.5 ? '%' : datum.value == 1 ? '1' : ''", "labelOverlap": false, "labelPadding": 2, "tickSize": {"condition": {"test": "datum.value == 100 || datum.value == 50.5 || datum.value == 1", "value": 5}, "value": 3}, "title": null}}
 },
 "layer": [
  {"data": {"name": "tr"}, "transform": [{"filter": "datum.p == 'A2'"}], "mark": {"type": "line", "color": "black", "strokeWidth": 1.3, "interpolate": "monotone"}},
  {"data": {"name": "pk"}, "transform": [{"filter": "datum.p == 'A2'"}], "mark": {"type": "text", "dy": -4, "fontSize": 13, "fontWeight": "bold", "baseline": "alphabetic"}, "encoding": {"text": {"field": "s"}}},
  {"data": {"name": "lab"}, "transform": [{"filter": "datum.p == 'A2'"}], "mark": {"type": "text", "align": "left", "baseline": "middle", "fontSize": 18}, "encoding": {"text": {"field": "s"}}}
 ]},
{"width": 745, "height": 64,
 "encoding": {
  "x": {"field": "t", "type": "quantitative", "scale": {"domain": [0.1, 44.7], "nice": false, "zero": false}, "axis": {"values": [0.5,1,1.5,2,2.5,3,3.5,4,4.5,5,5.5,6,6.5,7,7.5,8,8.5,9,9.5,10,10.5,11,11.5,12,12.5,13,13.5,14,14.5,15,15.5,16,16.5,17,17.5,18,18.5,19,19.5,20,20.5,21,21.5,22,22.5,23,23.5,24,24.5,25,25.5,26,26.5,27,27.5,28,28.5,29,29.5,30,30.5,31,31.5,32,32.5,33,33.5,34,34.5,35,35.5,36,36.5,37,37.5,38,38.5,39,39.5,40,40.5,41,41.5,42,42.5,43,43.5,44,44.5], "labels": false, "title": null, "tickSize": {"condition": {"test": "datum.value % 2.5 == 0", "value": 5}, "value": 2.5}}},
  "y": {"field": "v", "type": "quantitative", "scale": {"domain": [0, 100], "nice": false, "zero": false}, "axis": {"values": [0,10,20,30,40,50,60,70,80,90,100], "labelExpr": "datum.value == 100 ? '100' : datum.value == 50 ? '%' : datum.value == 0 ? '0' : ''", "labelOverlap": false, "labelPadding": 2, "tickSize": {"condition": {"test": "datum.value == 100 || datum.value == 50 || datum.value == 0", "value": 5}, "value": 3}, "title": null}}
 },
 "layer": [
  {"data": {"name": "tr"}, "transform": [{"filter": "datum.p == 'A3'"}], "mark": {"type": "line", "color": "black", "strokeWidth": 1.3, "interpolate": "monotone"}},
  {"data": {"name": "pk"}, "transform": [{"filter": "datum.p == 'A3'"}], "mark": {"type": "text", "dy": -4, "fontSize": 13, "fontWeight": "normal", "baseline": "alphabetic"}, "encoding": {"text": {"field": "s"}}},
  {"data": {"name": "lab"}, "transform": [{"filter": "datum.p == 'A3'"}], "mark": {"type": "text", "align": "left", "baseline": "middle", "fontSize": 18}, "encoding": {"text": {"field": "s"}}}
 ]},
{"width": 745, "height": 64,
 "encoding": {
  "x": {"field": "t", "type": "quantitative", "scale": {"domain": [0.1, 44.7], "nice": false, "zero": false}, "axis": {"values": [0.5,1,1.5,2,2.5,3,3.5,4,4.5,5,5.5,6,6.5,7,7.5,8,8.5,9,9.5,10,10.5,11,11.5,12,12.5,13,13.5,14,14.5,15,15.5,16,16.5,17,17.5,18,18.5,19,19.5,20,20.5,21,21.5,22,22.5,23,23.5,24,24.5,25,25.5,26,26.5,27,27.5,28,28.5,29,29.5,30,30.5,31,31.5,32,32.5,33,33.5,34,34.5,35,35.5,36,36.5,37,37.5,38,38.5,39,39.5,40,40.5,41,41.5,42,42.5,43,43.5,44,44.5], "labels": false, "title": null, "tickSize": {"condition": {"test": "datum.value % 2.5 == 0", "value": 5}, "value": 2.5}}},
  "y": {"field": "v", "type": "quantitative", "scale": {"domain": [1, 100], "nice": false, "zero": false}, "axis": {"values": [1,10,20,30,40,50.5,60,70,80,90,100], "labelExpr": "datum.value == 100 ? '100' : datum.value == 50.5 ? '%' : datum.value == 1 ? '1' : ''", "labelOverlap": false, "labelPadding": 2, "tickSize": {"condition": {"test": "datum.value == 100 || datum.value == 50.5 || datum.value == 1", "value": 5}, "value": 3}, "title": null}}
 },
 "layer": [
  {"data": {"name": "tr"}, "transform": [{"filter": "datum.p == 'A4'"}], "mark": {"type": "line", "color": "black", "strokeWidth": 1.3, "interpolate": "monotone"}},
  {"data": {"name": "pk"}, "transform": [{"filter": "datum.p == 'A4'"}], "mark": {"type": "text", "dy": -4, "fontSize": 13, "fontWeight": "bold", "baseline": "alphabetic"}, "encoding": {"text": {"field": "s"}}},
  {"data": {"name": "lab"}, "transform": [{"filter": "datum.p == 'A4'"}], "mark": {"type": "text", "align": "left", "baseline": "middle", "fontSize": 18}, "encoding": {"text": {"field": "s"}}}
 ]},
{"width": 745, "height": 64,
 "encoding": {
  "x": {"field": "t", "type": "quantitative", "scale": {"domain": [0.1, 44.7], "nice": false, "zero": false}, "axis": {"values": [0.5,1,1.5,2,2.5,3,3.5,4,4.5,5,5.5,6,6.5,7,7.5,8,8.5,9,9.5,10,10.5,11,11.5,12,12.5,13,13.5,14,14.5,15,15.5,16,16.5,17,17.5,18,18.5,19,19.5,20,20.5,21,21.5,22,22.5,23,23.5,24,24.5,25,25.5,26,26.5,27,27.5,28,28.5,29,29.5,30,30.5,31,31.5,32,32.5,33,33.5,34,34.5,35,35.5,36,36.5,37,37.5,38,38.5,39,39.5,40,40.5,41,41.5,42,42.5,43,43.5,44,44.5], "labelExpr": "datum.value % 5 == 0 ? format(datum.value, '.2f') : ''", "labelOverlap": false, "labelFlush": false, "labelPadding": 4, "tickSize": {"condition": {"test": "datum.value % 2.5 == 0", "value": 5}, "value": 2.5}, "title": "Time", "titleX": 749, "titleY": 3, "titleAlign": "left", "titleBaseline": "middle", "titleFontSize": 16, "titleFontWeight": "normal", "titleAngle": 0}},
  "y": {"field": "v", "type": "quantitative", "scale": {"domain": [2, 100], "nice": false, "zero": false}, "axis": {"values": [2,10,20,30,40,51,60,70,80,90,100], "labelExpr": "datum.value == 100 ? '100' : datum.value == 51 ? '%' : datum.value == 2 ? '2' : ''", "labelOverlap": false, "labelPadding": 2, "tickSize": {"condition": {"test": "datum.value == 100 || datum.value == 51 || datum.value == 2", "value": 5}, "value": 3}, "title": null}}
 },
 "layer": [
  {"data": {"name": "tr"}, "transform": [{"filter": "datum.p == 'A5'"}], "mark": {"type": "line", "color": "black", "strokeWidth": 1.3, "interpolate": "monotone"}},
  {"data": {"name": "pk"}, "transform": [{"filter": "datum.p == 'A5'"}], "mark": {"type": "text", "dy": -4, "fontSize": 13, "fontWeight": "bold", "baseline": "alphabetic"}, "encoding": {"text": {"field": "s"}}},
  {"data": {"name": "lab"}, "transform": [{"filter": "datum.p == 'A5'"}], "mark": {"type": "text", "align": "left", "baseline": "middle", "fontSize": 18}, "encoding": {"text": {"field": "s"}}}
 ]}
]},
{"spacing": 29, "resolve": {"scale": {"x": "independent", "y": "independent"}}, "vconcat": [
{"width": 745, "height": 64,
 "encoding": {
  "x": {"field": "t", "type": "quantitative", "scale": {"domain": [0.1, 44.7], "nice": false, "zero": false}, "axis": {"values": [0.5,1,1.5,2,2.5,3,3.5,4,4.5,5,5.5,6,6.5,7,7.5,8,8.5,9,9.5,10,10.5,11,11.5,12,12.5,13,13.5,14,14.5,15,15.5,16,16.5,17,17.5,18,18.5,19,19.5,20,20.5,21,21.5,22,22.5,23,23.5,24,24.5,25,25.5,26,26.5,27,27.5,28,28.5,29,29.5,30,30.5,31,31.5,32,32.5,33,33.5,34,34.5,35,35.5,36,36.5,37,37.5,38,38.5,39,39.5,40,40.5,41,41.5,42,42.5,43,43.5,44,44.5], "labels": false, "title": null, "tickSize": {"condition": {"test": "datum.value % 2.5 == 0", "value": 5}, "value": 2.5}}},
  "y": {"field": "v", "type": "quantitative", "scale": {"domain": [-2, 100], "nice": false, "zero": false}, "axis": {"values": [-2,10,20,30,40,49,60,70,80,90,100], "labelExpr": "datum.value == 100 ? '100' : datum.value == 49 ? '%' : datum.value == -2 ? '-2' : ''", "labelOverlap": false, "labelPadding": 2, "tickSize": {"condition": {"test": "datum.value == 100 || datum.value == 49 || datum.value == -2", "value": 5}, "value": 3}, "title": "B", "titleAngle": 0, "titleAlign": "left", "titleBaseline": "alphabetic", "titleX": -72, "titleY": 28, "titleFont": "Liberation Serif", "titleFontSize": 40, "titleFontWeight": "normal"}}
 },
 "layer": [
  {"data": {"name": "tr"}, "transform": [{"filter": "datum.p == 'B1'"}], "mark": {"type": "line", "color": "black", "strokeWidth": 1.3, "interpolate": "monotone"}},
  {"data": {"name": "pk"}, "transform": [{"filter": "datum.p == 'B1'"}], "mark": {"type": "text", "dy": -4, "fontSize": 13, "fontWeight": "normal", "baseline": "alphabetic"}, "encoding": {"text": {"field": "s"}}},
  {"data": {"name": "lab"}, "transform": [{"filter": "datum.p == 'B1'"}], "mark": {"type": "text", "align": "left", "baseline": "middle", "fontSize": 18}, "encoding": {"text": {"field": "s"}}}
 ]},
{"width": 745, "height": 64,
 "encoding": {
  "x": {"field": "t", "type": "quantitative", "scale": {"domain": [0.1, 44.7], "nice": false, "zero": false}, "axis": {"values": [0.5,1,1.5,2,2.5,3,3.5,4,4.5,5,5.5,6,6.5,7,7.5,8,8.5,9,9.5,10,10.5,11,11.5,12,12.5,13,13.5,14,14.5,15,15.5,16,16.5,17,17.5,18,18.5,19,19.5,20,20.5,21,21.5,22,22.5,23,23.5,24,24.5,25,25.5,26,26.5,27,27.5,28,28.5,29,29.5,30,30.5,31,31.5,32,32.5,33,33.5,34,34.5,35,35.5,36,36.5,37,37.5,38,38.5,39,39.5,40,40.5,41,41.5,42,42.5,43,43.5,44,44.5], "labels": false, "title": null, "tickSize": {"condition": {"test": "datum.value % 2.5 == 0", "value": 5}, "value": 2.5}}},
  "y": {"field": "v", "type": "quantitative", "scale": {"domain": [-2, 100], "nice": false, "zero": false}, "axis": {"values": [-2,10,20,30,40,49,60,70,80,90,100], "labelExpr": "datum.value == 100 ? '100' : datum.value == 49 ? '%' : datum.value == -2 ? '-2' : ''", "labelOverlap": false, "labelPadding": 2, "tickSize": {"condition": {"test": "datum.value == 100 || datum.value == 49 || datum.value == -2", "value": 5}, "value": 3}, "title": null}}
 },
 "layer": [
  {"data": {"name": "tr"}, "transform": [{"filter": "datum.p == 'B2'"}], "mark": {"type": "line", "color": "black", "strokeWidth": 1.3, "interpolate": "monotone"}},
  {"data": {"name": "pk"}, "transform": [{"filter": "datum.p == 'B2'"}], "mark": {"type": "text", "dy": -4, "fontSize": 13, "fontWeight": "normal", "baseline": "alphabetic"}, "encoding": {"text": {"field": "s"}}},
  {"data": {"name": "mk"}, "transform": [{"filter": "datum.p == 'B2'"}], "mark": {"type": "text", "dy": -4, "fontSize": 12, "font": "DejaVu Sans", "fill": "black", "baseline": "alphabetic"}, "encoding": {"text": {"field": "s"}}},
  {"data": {"name": "lab"}, "transform": [{"filter": "datum.p == 'B2'"}], "mark": {"type": "text", "align": "left", "baseline": "middle", "fontSize": 18}, "encoding": {"text": {"field": "s"}}}
 ]},
{"width": 745, "height": 64,
 "encoding": {
  "x": {"field": "t", "type": "quantitative", "scale": {"domain": [0.1, 44.7], "nice": false, "zero": false}, "axis": {"values": [0.5,1,1.5,2,2.5,3,3.5,4,4.5,5,5.5,6,6.5,7,7.5,8,8.5,9,9.5,10,10.5,11,11.5,12,12.5,13,13.5,14,14.5,15,15.5,16,16.5,17,17.5,18,18.5,19,19.5,20,20.5,21,21.5,22,22.5,23,23.5,24,24.5,25,25.5,26,26.5,27,27.5,28,28.5,29,29.5,30,30.5,31,31.5,32,32.5,33,33.5,34,34.5,35,35.5,36,36.5,37,37.5,38,38.5,39,39.5,40,40.5,41,41.5,42,42.5,43,43.5,44,44.5], "labels": false, "title": null, "tickSize": {"condition": {"test": "datum.value % 2.5 == 0", "value": 5}, "value": 2.5}}},
  "y": {"field": "v", "type": "quantitative", "scale": {"domain": [-1, 100], "nice": false, "zero": false}, "axis": {"values": [-1,10,20,30,40,49.5,60,70,80,90,100], "labelExpr": "datum.value == 100 ? '100' : datum.value == 49.5 ? '%' : datum.value == -1 ? '-1' : ''", "labelOverlap": false, "labelPadding": 2, "tickSize": {"condition": {"test": "datum.value == 100 || datum.value == 49.5 || datum.value == -1", "value": 5}, "value": 3}, "title": null}}
 },
 "layer": [
  {"data": {"name": "tr"}, "transform": [{"filter": "datum.p == 'B3'"}], "mark": {"type": "line", "color": "black", "strokeWidth": 1.3, "interpolate": "monotone"}},
  {"data": {"name": "pk"}, "transform": [{"filter": "datum.p == 'B3'"}], "mark": {"type": "text", "dy": -4, "fontSize": 13, "fontWeight": "normal", "baseline": "alphabetic"}, "encoding": {"text": {"field": "s"}}},
  {"data": {"name": "lab"}, "transform": [{"filter": "datum.p == 'B3'"}], "mark": {"type": "text", "align": "left", "baseline": "middle", "fontSize": 18}, "encoding": {"text": {"field": "s"}}}
 ]},
{"width": 745, "height": 64,
 "encoding": {
  "x": {"field": "t", "type": "quantitative", "scale": {"domain": [0.1, 44.7], "nice": false, "zero": false}, "axis": {"values": [0.5,1,1.5,2,2.5,3,3.5,4,4.5,5,5.5,6,6.5,7,7.5,8,8.5,9,9.5,10,10.5,11,11.5,12,12.5,13,13.5,14,14.5,15,15.5,16,16.5,17,17.5,18,18.5,19,19.5,20,20.5,21,21.5,22,22.5,23,23.5,24,24.5,25,25.5,26,26.5,27,27.5,28,28.5,29,29.5,30,30.5,31,31.5,32,32.5,33,33.5,34,34.5,35,35.5,36,36.5,37,37.5,38,38.5,39,39.5,40,40.5,41,41.5,42,42.5,43,43.5,44,44.5], "labels": false, "title": null, "tickSize": {"condition": {"test": "datum.value % 2.5 == 0", "value": 5}, "value": 2.5}}},
  "y": {"field": "v", "type": "quantitative", "scale": {"domain": [-3, 100], "nice": false, "zero": false}, "axis": {"values": [-3,10,20,30,40,48.5,60,70,80,90,100], "labelExpr": "datum.value == 100 ? '100' : datum.value == 48.5 ? '%' : datum.value == -3 ? '-3' : ''", "labelOverlap": false, "labelPadding": 2, "tickSize": {"condition": {"test": "datum.value == 100 || datum.value == 48.5 || datum.value == -3", "value": 5}, "value": 3}, "title": null}}
 },
 "layer": [
  {"data": {"name": "tr"}, "transform": [{"filter": "datum.p == 'B4'"}], "mark": {"type": "line", "color": "black", "strokeWidth": 1.3, "interpolate": "monotone"}},
  {"data": {"name": "pk"}, "transform": [{"filter": "datum.p == 'B4'"}], "mark": {"type": "text", "dy": -4, "fontSize": 13, "fontWeight": "bold", "baseline": "alphabetic"}, "encoding": {"text": {"field": "s"}}},
  {"data": {"name": "lab"}, "transform": [{"filter": "datum.p == 'B4'"}], "mark": {"type": "text", "align": "left", "baseline": "middle", "fontSize": 18}, "encoding": {"text": {"field": "s"}}}
 ]},
{"width": 745, "height": 64,
 "encoding": {
  "x": {"field": "t", "type": "quantitative", "scale": {"domain": [0.1, 44.7], "nice": false, "zero": false}, "axis": {"values": [0.5,1,1.5,2,2.5,3,3.5,4,4.5,5,5.5,6,6.5,7,7.5,8,8.5,9,9.5,10,10.5,11,11.5,12,12.5,13,13.5,14,14.5,15,15.5,16,16.5,17,17.5,18,18.5,19,19.5,20,20.5,21,21.5,22,22.5,23,23.5,24,24.5,25,25.5,26,26.5,27,27.5,28,28.5,29,29.5,30,30.5,31,31.5,32,32.5,33,33.5,34,34.5,35,35.5,36,36.5,37,37.5,38,38.5,39,39.5,40,40.5,41,41.5,42,42.5,43,43.5,44,44.5], "labelExpr": "datum.value % 5 == 0 ? format(datum.value, '.2f') : ''", "labelOverlap": false, "labelFlush": false, "labelPadding": 4, "tickSize": {"condition": {"test": "datum.value % 2.5 == 0", "value": 5}, "value": 2.5}, "title": "Time", "titleX": 749, "titleY": 3, "titleAlign": "left", "titleBaseline": "middle", "titleFontSize": 16, "titleFontWeight": "normal", "titleAngle": 0}},
  "y": {"field": "v", "type": "quantitative", "scale": {"domain": [-5, 100], "nice": false, "zero": false}, "axis": {"values": [-5,10,20,30,40,47.5,60,70,80,90,100], "labelExpr": "datum.value == 100 ? '100' : datum.value == 47.5 ? '%' : datum.value == -5 ? '-5' : ''", "labelOverlap": false, "labelPadding": 2, "tickSize": {"condition": {"test": "datum.value == 100 || datum.value == 47.5 || datum.value == -5", "value": 5}, "value": 3}, "title": null}}
 },
 "layer": [
  {"data": {"name": "tr"}, "transform": [{"filter": "datum.p == 'B5'"}], "mark": {"type": "line", "color": "black", "strokeWidth": 1.3, "interpolate": "monotone"}},
  {"data": {"name": "pk"}, "transform": [{"filter": "datum.p == 'B5' && datum.t > 5"}], "mark": {"type": "text", "dy": -4, "fontSize": 13, "fontWeight": "bold", "baseline": "alphabetic"}, "encoding": {"text": {"field": "s"}}},
  {"data": {"name": "pk"}, "transform": [{"filter": "datum.p == 'B5' && datum.t < 3"}], "mark": {"type": "text", "dy": -9, "dx": 2, "fontSize": 13, "fontWeight": "bold", "baseline": "alphabetic"}, "encoding": {"text": {"field": "s"}}},
  {"data": {"name": "pk"}, "transform": [{"filter": "datum.p == 'B5' && datum.t > 3 && datum.t < 5"}], "mark": {"type": "text", "dy": -4, "dx": -1, "align": "left", "fontSize": 13, "fontWeight": "bold", "baseline": "alphabetic"}, "encoding": {"text": {"field": "s"}}},
  {"data": {"name": "lab"}, "transform": [{"filter": "datum.p == 'B5'"}], "mark": {"type": "text", "align": "left", "baseline": "middle", "fontSize": 18}, "encoding": {"text": {"field": "s"}}}
 ]}
]}
]
}
